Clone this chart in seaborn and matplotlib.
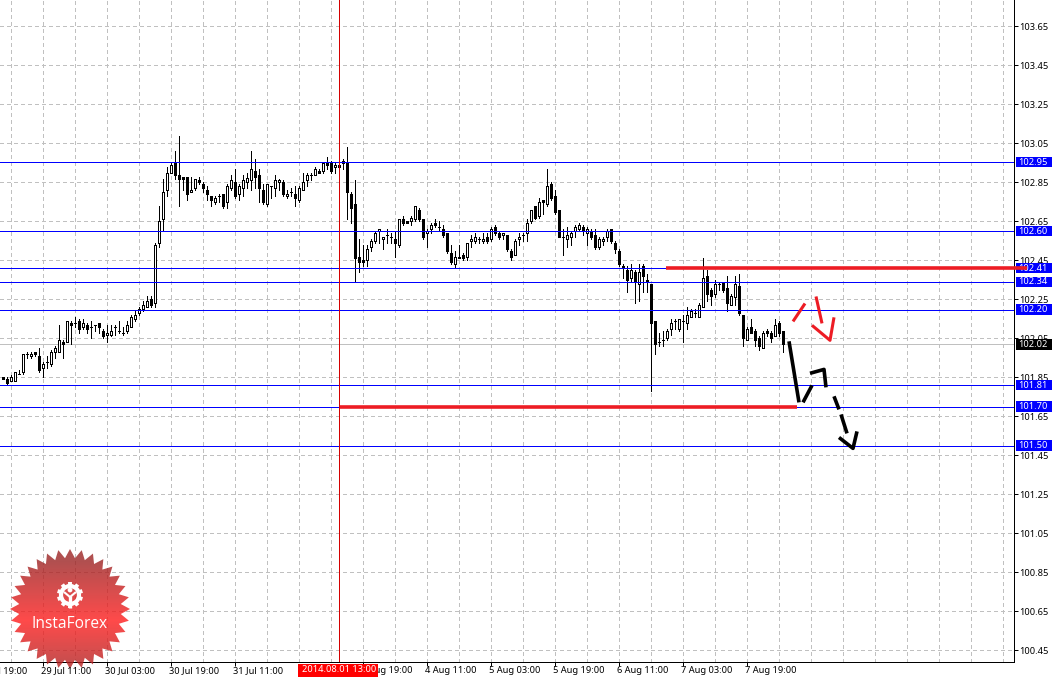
import numpy as np
import pandas as pd
import matplotlib
matplotlib.use("Agg")
import matplotlib.pyplot as plt
from matplotlib.colors import LinearSegmentedColormap
from matplotlib.patches import Circle, Polygon, Rectangle
import seaborn as sns

# hourly candles
opens = [
    101.85, 101.84, 101.83, 101.83, 101.87, 101.88, 101.97, 101.96, 101.98, 101.96,
    101.90, 101.93, 101.92, 101.98, 101.98, 102.03, 102.03, 102.13, 102.13, 102.14,
    102.11, 102.12, 102.11, 102.12, 102.13, 102.09, 102.07, 102.07, 102.11, 102.09,
    102.08, 102.09, 102.11, 102.15, 102.18, 102.20, 102.21, 102.25, 102.23, 102.54,
    102.66, 102.81, 102.90, 102.95, 102.89, 102.88, 102.88, 102.80, 102.82, 102.86,
    102.84, 102.81, 102.78, 102.75, 102.78, 102.79, 102.75, 102.82, 102.85, 102.79,
    102.82, 102.85, 102.86, 102.91, 102.89, 102.81, 102.74, 102.83, 102.82, 102.85,
    102.85, 102.78, 102.80, 102.79, 102.76, 102.81, 102.86, 102.89, 102.89, 102.91,
    102.91, 102.95, 102.95, 102.93, 102.93, 102.96, 102.95, 102.79, 102.74, 102.47,
    102.45, 102.45, 102.52, 102.55, 102.60, 102.56, 102.58, 102.57, 102.56, 102.53,
    102.66, 102.65, 102.65, 102.66, 102.71, 102.66, 102.59, 102.61, 102.64, 102.62,
    102.61, 102.59, 102.49, 102.43, 102.46, 102.48, 102.47, 102.55, 102.55, 102.56,
    102.55, 102.57, 102.56, 102.62, 102.59, 102.58, 102.58, 102.50, 102.48, 102.56,
    102.58, 102.59, 102.65, 102.73, 102.68, 102.76, 102.74, 102.84, 102.78, 102.71,
    102.57, 102.56, 102.57, 102.60, 102.61, 102.62, 102.59, 102.60, 102.58, 102.52,
    102.55, 102.57, 102.61, 102.54, 102.50, 102.42, 102.40, 102.36, 102.39, 102.33,
    102.42, 102.35, 102.33, 102.14, 102.03, 102.04, 102.05, 102.10, 102.14, 102.10,
    102.14, 102.13, 102.16, 102.18, 102.16, 102.21, 102.37, 102.30, 102.28, 102.33,
    102.34, 102.31, 102.22, 102.26, 102.32, 102.17, 102.04, 102.11, 102.09, 102.05,
    102.00, 102.09, 102.08, 102.06, 102.13, 102.09,
]
highs = [
    101.85, 101.85, 101.86, 101.88, 101.89, 101.97, 101.98, 101.98, 101.98, 102.00,
    101.93, 101.96, 101.99, 102.01, 102.12, 102.04, 102.14, 102.14, 102.16, 102.15,
    102.15, 102.13, 102.14, 102.12, 102.13, 102.10, 102.12, 102.12, 102.12, 102.14,
    102.11, 102.14, 102.17, 102.19, 102.21, 102.24, 102.27, 102.27, 102.54, 102.73,
    102.87, 102.93, 102.95, 103.01, 103.09, 102.88, 102.88, 102.88, 102.87, 102.88,
    102.85, 102.83, 102.78, 102.78, 102.79, 102.79, 102.84, 102.89, 102.92, 102.84,
    102.89, 102.90, 103.01, 102.97, 102.92, 102.84, 102.84, 102.83, 102.89, 102.87,
    102.86, 102.81, 102.82, 102.83, 102.83, 102.90, 102.90, 102.90, 102.93, 102.92,
    102.95, 102.98, 102.96, 102.95, 102.94, 102.97, 103.03, 102.80, 102.86, 102.56,
    102.53, 102.53, 102.56, 102.60, 102.61, 102.57, 102.61, 102.59, 102.60, 102.66,
    102.68, 102.65, 102.68, 102.73, 102.72, 102.66, 102.61, 102.64, 102.66, 102.65,
    102.63, 102.59, 102.53, 102.50, 102.53, 102.49, 102.54, 102.58, 102.59, 102.57,
    102.59, 102.59, 102.62, 102.63, 102.60, 102.59, 102.58, 102.51, 102.56, 102.59,
    102.59, 102.66, 102.71, 102.73, 102.77, 102.76, 102.92, 102.85, 102.81, 102.71,
    102.61, 102.62, 102.60, 102.63, 102.64, 102.63, 102.62, 102.61, 102.61, 102.57,
    102.57, 102.61, 102.61, 102.55, 102.51, 102.43, 102.42, 102.43, 102.40, 102.43,
    102.43, 102.38, 102.33, 102.14, 102.08, 102.09, 102.10, 102.15, 102.15, 102.15,
    102.17, 102.21, 102.20, 102.20, 102.23, 102.46, 102.40, 102.31, 102.35, 102.34,
    102.34, 102.37, 102.28, 102.37, 102.38, 102.17, 102.11, 102.15, 102.10, 102.06,
    102.09, 102.10, 102.09, 102.15, 102.14, 102.09,
]
lows = [
    101.84, 101.81, 101.83, 101.83, 101.87, 101.87, 101.95, 101.95, 101.96, 101.88,
    101.85, 101.90, 101.91, 101.95, 101.98, 101.95, 102.03, 102.02, 102.11, 102.08,
    102.10, 102.08, 102.05, 102.09, 102.08, 102.05, 102.03, 102.06, 102.07, 102.08,
    102.07, 102.08, 102.11, 102.14, 102.17, 102.19, 102.21, 102.21, 102.21, 102.52,
    102.60, 102.78, 102.90, 102.87, 102.73, 102.81, 102.76, 102.80, 102.81, 102.84,
    102.80, 102.76, 102.73, 102.74, 102.75, 102.72, 102.72, 102.81, 102.77, 102.76,
    102.78, 102.82, 102.81, 102.82, 102.75, 102.74, 102.73, 102.77, 102.78, 102.81,
    102.78, 102.77, 102.78, 102.73, 102.75, 102.81, 102.83, 102.86, 102.89, 102.90,
    102.90, 102.92, 102.90, 102.90, 102.93, 102.92, 102.66, 102.64, 102.34, 102.39,
    102.42, 102.42, 102.50, 102.54, 102.54, 102.51, 102.54, 102.54, 102.47, 102.52,
    102.63, 102.64, 102.63, 102.65, 102.65, 102.56, 102.52, 102.59, 102.62, 102.60,
    102.57, 102.49, 102.43, 102.41, 102.46, 102.45, 102.45, 102.52, 102.54, 102.54,
    102.54, 102.54, 102.55, 102.58, 102.56, 102.56, 102.50, 102.45, 102.48, 102.53,
    102.55, 102.55, 102.64, 102.66, 102.67, 102.69, 102.73, 102.76, 102.69, 102.57,
    102.48, 102.52, 102.53, 102.57, 102.60, 102.58, 102.53, 102.56, 102.51, 102.51,
    102.53, 102.55, 102.54, 102.49, 102.42, 102.36, 102.29, 102.34, 102.23, 102.24,
    102.29, 102.29, 101.78, 101.97, 102.01, 102.01, 102.04, 102.07, 102.10, 102.09,
    102.03, 102.10, 102.16, 102.16, 102.16, 102.21, 102.24, 102.22, 102.26, 102.30,
    102.29, 102.19, 102.22, 102.22, 102.17, 102.01, 102.04, 102.08, 102.01, 101.99,
    102.00, 102.06, 102.03, 102.06, 102.06, 101.98,
]
closes = [
    101.84, 101.82, 101.85, 101.88, 101.87, 101.97, 101.97, 101.97, 101.97, 101.89,
    101.92, 101.93, 101.98, 102.00, 102.04, 102.02, 102.14, 102.12, 102.13, 102.10,
    102.13, 102.10, 102.11, 102.12, 102.11, 102.06, 102.08, 102.09, 102.11, 102.09,
    102.08, 102.12, 102.16, 102.17, 102.20, 102.22, 102.24, 102.22, 102.53, 102.65,
    102.80, 102.90, 102.94, 102.89, 102.87, 102.87, 102.79, 102.81, 102.87, 102.85,
    102.82, 102.79, 102.76, 102.77, 102.78, 102.73, 102.83, 102.86, 102.78, 102.83,
    102.86, 102.87, 102.92, 102.88, 102.82, 102.75, 102.84, 102.83, 102.86, 102.86,
    102.79, 102.79, 102.80, 102.77, 102.82, 102.85, 102.89, 102.89, 102.92, 102.90,
    102.95, 102.94, 102.91, 102.94, 102.94, 102.95, 102.80, 102.72, 102.46, 102.44,
    102.44, 102.51, 102.55, 102.59, 102.61, 102.57, 102.58, 102.57, 102.54, 102.66,
    102.64, 102.64, 102.67, 102.73, 102.66, 102.57, 102.60, 102.63, 102.63, 102.62,
    102.58, 102.50, 102.44, 102.47, 102.47, 102.46, 102.54, 102.56, 102.57, 102.56,
    102.56, 102.55, 102.61, 102.59, 102.57, 102.59, 102.51, 102.47, 102.55, 102.57,
    102.58, 102.64, 102.71, 102.67, 102.75, 102.75, 102.83, 102.77, 102.70, 102.57,
    102.57, 102.58, 102.59, 102.62, 102.63, 102.60, 102.61, 102.57, 102.52, 102.56,
    102.56, 102.60, 102.55, 102.51, 102.43, 102.41, 102.35, 102.40, 102.34, 102.39,
    102.37, 102.34, 102.13, 102.02, 102.03, 102.04, 102.09, 102.13, 102.14, 102.15,
    102.14, 102.17, 102.19, 102.18, 102.22, 102.36, 102.28, 102.27, 102.33, 102.33,
    102.30, 102.23, 102.27, 102.33, 102.18, 102.05, 102.10, 102.08, 102.04, 102.01,
    102.08, 102.08, 102.05, 102.12, 102.08, 102.02,
]

price_ticks = [103.65, 103.45, 103.25, 103.05, 102.85, 102.65, 102.45, 102.25, 102.05,
               101.85, 101.65, 101.45, 101.25, 101.05, 100.85, 100.65, 100.45]
levels = [102.954, 102.60, 102.41, 102.34, 102.197, 101.81, 101.70, 101.50]
last_price = 102.02

time_ticks = [-6, 10, 26, 42, 58, 90, 106, 122, 138, 154, 170, 186]
time_labels = ["28 Jul 19:00", "29 Jul 11:00", "30 Jul 03:00", "30 Jul 19:00", "31 Jul 11:00",
               "1 Aug 19:00", "4 Aug 11:00", "5 Aug 03:00", "5 Aug 19:00", "6 Aug 11:00",
               "7 Aug 03:00", "7 Aug 19:00"]
grid_times = list(range(2, 253, 8))
cursor_time = 84
cursor_label = "2014.08.01 13:00"

# thick horizontal marks: start, end, price
red_bars = [(165.75, 256.0, 102.413), (84.25, 198.6, 101.70)]

# hand drawn arrows on the chart: stroke id, time, price
red_stroke_ids = [0, 0, 1, 1, 2, 2, 2]
red_stroke_t = [197.5, 200.5, 203.25, 204.75, 202.25, 206.75, 207.75]
red_stroke_p = [102.137, 102.229, 102.265, 102.127, 102.117, 102.04, 102.158]
black_stroke_ids = [0, 0, 1, 1, 2, 2, 2, 3, 3, 4, 4, 5, 5, 5]
black_stroke_t = [196.5, 199, 200, 202.25, 201.75, 205.25, 205.75, 207.75, 209, 209.5, 211, 209, 212.5, 213.5]
black_stroke_p = [102.035, 101.722, 101.722, 101.809, 101.871, 101.891, 101.799,
                  101.753, 101.686, 101.66, 101.563, 101.542, 101.486, 101.573]

W, H = 1056, 679
PLOT_W, PLOT_H = 1014, 662
ONE_PX = 0.72
FONT_SIZE = 6.7

sns.set_theme(style="white")
plt.rcParams["font.family"] = ["Noto Sans", "DejaVu Sans"]
plt.rcParams["lines.solid_capstyle"] = "butt"

fig = plt.figure(figsize=(W / 100, H / 100), dpi=100, facecolor="white")
ax = fig.add_axes([0, (H - PLOT_H) / H, PLOT_W / W, PLOT_H / H], zorder=1)

df = pd.DataFrame({"open": opens, "high": highs, "low": lows, "close": closes})
df["t"] = df.index

# wicks
wicks = df.melt(id_vars="t", value_vars=["high", "low"], value_name="price")
sns.lineplot(data=wicks, x="t", y="price", units="t", estimator=None, sort=False,
             color="black", linewidth=ONE_PX, antialiased=False, legend=False, ax=ax, zorder=3)

# bodies, hollow when the hour closed up
bottoms = df[["open", "close"]].min(axis=1)
heights = (df["open"] - df["close"]).abs()
colors = ["white" if c >= o else "black" for o, c in zip(df["open"], df["close"])]
ax.bar(df["t"], heights, bottom=bottoms, width=0.5, color=colors, edgecolor="black",
       linewidth=ONE_PX, antialiased=False, zorder=4)

for p in levels:
    ax.axhline(p, color="#0000ff", lw=ONE_PX, antialiased=False, zorder=5)
ax.axhline(last_price, color="#c0c0c0", lw=ONE_PX, antialiased=False, zorder=2)
ax.axvline(cursor_time, color="#d40000", lw=ONE_PX, antialiased=False, zorder=6)

for t0, t1, p in red_bars:
    ax.plot([t0, t1], [p, p], color="#ed1c24", lw=2.6, clip_on=False, zorder=9)

red_strokes = pd.DataFrame({"stroke": red_stroke_ids, "t": red_stroke_t, "price": red_stroke_p})
black_strokes = pd.DataFrame({"stroke": black_stroke_ids, "t": black_stroke_t, "price": black_stroke_p})
sns.lineplot(data=red_strokes, x="t", y="price", units="stroke", estimator=None, sort=False,
             color="#ed1c24", linewidth=2.2, legend=False, ax=ax, zorder=7)
sns.lineplot(data=black_strokes, x="t", y="price", units="stroke", estimator=None, sort=False,
             color="black", linewidth=2.6, legend=False, ax=ax, zorder=7)

ax.set_xlim(-0.75, (PLOT_W - 3) / 4)
ax.set_ylim(103.65 - (PLOT_H - 26.4) / 195, 103.65 + 26.4 / 195)
ax.set_xlabel("")
ax.set_ylabel("")
ax.set_xticks(time_ticks[1:])
ax.set_xticklabels([])
ax.set_xticks(grid_times, minor=True)
ax.xaxis.remove_overlapping_locs = False
ax.set_yticks(price_ticks)
ax.set_yticklabels([f"{p:.2f}" for p in price_ticks], fontsize=FONT_SIZE, color="black")
ax.yaxis.tick_right()
ax.set_axisbelow(True)
ax.grid(False)
grid_style = dict(color="#c0c0c0", lw=ONE_PX, linestyle=(0, (4, 3)), antialiased=False)
ax.yaxis.grid(True, **grid_style)
ax.xaxis.grid(True, which="minor", **grid_style)
sns.despine(ax=ax, left=True, right=False, top=True, bottom=False)
for side in ["right", "bottom"]:
    ax.spines[side].set_color("black")
    ax.spines[side].set_linewidth(ONE_PX)
ax.tick_params(axis="y", right=True, left=False, length=3, width=ONE_PX, color="black", pad=0.8)
ax.tick_params(axis="x", which="major", length=3, width=ONE_PX, color="black", bottom=True)
ax.tick_params(axis="x", which="minor", length=0)

# price tags on the right axis
tag_tf = ax.get_yaxis_transform()
tags = [(p, "#0000ff") for p in levels] + [(last_price, "black")]
for p, col in tags:
    ax.add_patch(Rectangle((1016 / PLOT_W, p - 0.027), 36 / PLOT_W, 0.054, transform=tag_tf,
                           facecolor=col, edgecolor="none", clip_on=False, zorder=8))
    ax.text(1018.5 / PLOT_W, p, f"{p:.2f}", transform=tag_tf, color="white", fontsize=FONT_SIZE,
            va="center", ha="left", clip_on=False, zorder=8.5)

# logo sits over the grid, so the time labels go on the figure above it
logo = fig.add_axes([8 / W, 1 - 671 / H, 124 / W, 126 / H], zorder=2)
logo.set_axis_off()
yy, xx = np.mgrid[0:126, 0:124]
shade = np.abs(yy - 75) / 60
badge_cmap = LinearSegmentedColormap.from_list("badge", ["#ff1d1d", "#9c2424"])
img = logo.imshow(shade, cmap=badge_cmap, vmin=0, vmax=1, extent=(0, 124, 126, 0), alpha=0.8, aspect="auto")
angles = np.linspace(0, 2 * np.pi, 65)[:-1]
radii = np.where(np.arange(64) % 2 == 0, 60, 51)
star = Polygon(np.column_stack([62 + radii * np.sin(angles), 64 - radii * np.cos(angles)]),
               transform=logo.transData, facecolor="none", edgecolor="none")
logo.add_patch(star)
img.set_clip_path(star)
logo.add_patch(Circle((62, 50), 9, facecolor="none", edgecolor="white", lw=3))
for a in np.linspace(0, 2 * np.pi, 11)[:-1]:
    logo.plot([62 + 9 * np.sin(a), 62 + 13 * np.sin(a)], [50 - 9 * np.cos(a), 50 - 13 * np.cos(a)],
              color="white", lw=2.8)
logo.add_patch(Circle((62, 45), 2.4, facecolor="white", edgecolor="none"))
logo.plot([56, 62, 68], [47, 52, 47], color="white", lw=1.5)
logo.plot([62, 62], [51, 63], color="white", lw=2.4)
logo.set_xlim(0, 124)
logo.set_ylim(126, 0)
logo.text(62, 78.5, "InstaForex", color="white", fontsize=11.2, family="Open Sans", ha="center", va="center")

# time labels
label_y = (PLOT_H - 670.5) / PLOT_H
time_tf = ax.get_xaxis_transform()
for t, s in zip(time_ticks, time_labels):
    fig.text(t - 0.4, label_y, s, transform=time_tf, fontsize=FONT_SIZE, color="black",
             ha="left", va="center", zorder=10)
fig.add_artist(Rectangle((298 / W, 1 - 677 / H), 80 / W, 13 / H, transform=fig.transFigure,
                         facecolor="#ff0000", edgecolor="none", zorder=11))
fig.text(302 / W, 1 - 670 / H, cursor_label, color="white", fontsize=FONT_SIZE, ha="left", va="center", zorder=12)

fig.savefig("out.png", dpi=100, facecolor="white")
